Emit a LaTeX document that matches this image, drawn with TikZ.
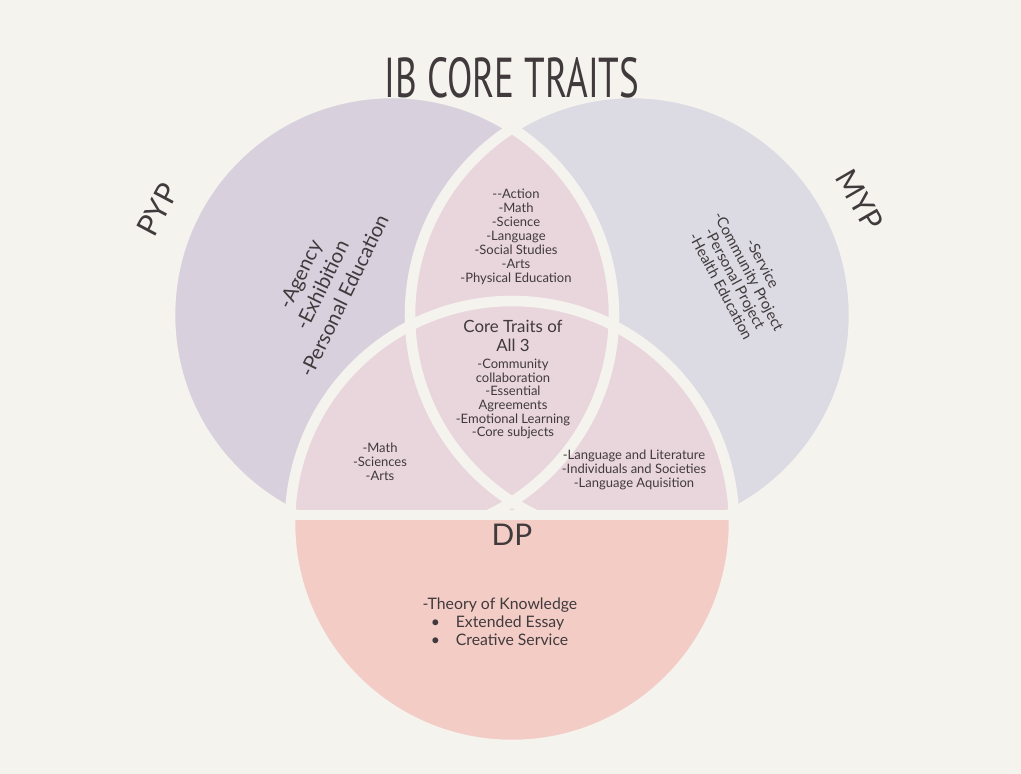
\documentclass[tikz,border=0pt]{standalone}
\usepackage{fontspec}
\setmainfont{Lato}
\newfontfamily\titlefont{PT Sans}
\begin{document}
\begin{tikzpicture}[x=0.02cm,y=-0.02cm,
  txt/.style={text=tc,align=center,inner sep=0pt},
  gap/.style={draw=bg,line width=6pt}]
\definecolor{bg}{HTML}{F5F3EE}
\definecolor{tc}{HTML}{403A3C}
\definecolor{lav}{HTML}{D9D0DE}
\definecolor{gry}{HTML}{DCDBE3}
\definecolor{pnk}{HTML}{E9D6DD}
\definecolor{sal}{HTML}{F4CCC6}
\fill[bg] (0,0) rectangle (1021,774);
\useasboundingbox (0,0) rectangle (1021,774);
\coordinate (P) at (392,315);
\coordinate (M) at (632,315);
\coordinate (D) at (512,523);
\fill[lav] (P) circle (222);
\fill[gry] (M) circle (222);
\begin{scope}\clip (P) circle (222); \fill[pnk] (M) circle (222);\end{scope}
\begin{scope}\clip (0,0) rectangle (1021,515); \fill[pnk] (D) circle (222);\end{scope}
\draw[gap] (P) circle (222);
\draw[gap] (M) circle (222);
\draw[gap] (D) circle (222);
\begin{scope}\clip (0,515) rectangle (1021,774); \fill[sal] (D) circle (222);\end{scope}
\draw[gap] (250,515) -- (780,515);
\begin{scope}\clip (0,515) rectangle (1021,774); \draw[gap] (D) circle (222);\end{scope}
% title
\node[txt,font=\titlefont\fontsize{32}{32}\selectfont] (title) at (512,78) {\scalebox{0.66}[1]{IB CORE TRAITS}};
\node[txt,rotate=62,font=\fontsize{17}{17}\selectfont] (pyp) at (158,210) {PYP};
\node[txt,rotate=-60,font=\fontsize{17}{17}\selectfont] (myp) at (860,200) {MYP};
\node[txt,rotate=64,font=\fontsize{11.5}{14}\selectfont] (pl) at (322,285) {-Agency\\-Exhibition\\-Personal Education};
\node[txt,rotate=-62,font=\fontsize{8.5}{9}\selectfont] (ml) at (742,275) {-Service\\-Community Project\\-Personal Project\\-Health Education};
\node[txt,font=\fontsize{7.4}{8}\selectfont] (top) at (516,237) {-{}-Action\\-Math\\-Science\\-Language\\-Social Studies\\-Arts\\-Physical Education};
\node[txt,font=\fontsize{9.6}{10.8}\selectfont] (core) at (513,336) {Core Traits of\\All 3};
\node[txt,font=\fontsize{7.4}{7.8}\selectfont] (corel) at (513,399) {-Community\\collaboration\\-Essential\\Agreements\\-Emotional Learning\\-Core subjects};
\node[txt,font=\fontsize{7.4}{8}\selectfont] (left) at (380,462) {-Math\\-Sciences\\-Arts};
\node[txt,font=\fontsize{7.4}{8}\selectfont] (right) at (634,470) {-Language and Literature\\-Individuals and Societies\\-Language Aquisition};
\node[txt,font=\fontsize{17}{17}\selectfont] (dp) at (512,535) {DP};
\node[txt,font=\fontsize{9}{10.2}\selectfont,align=left] (dpl) at (500,622) {-Theory of Knowledge\\\ \ \textbullet\quad Extended Essay\\\ \ \textbullet\quad Creative Service};
\end{tikzpicture}
\end{document}
